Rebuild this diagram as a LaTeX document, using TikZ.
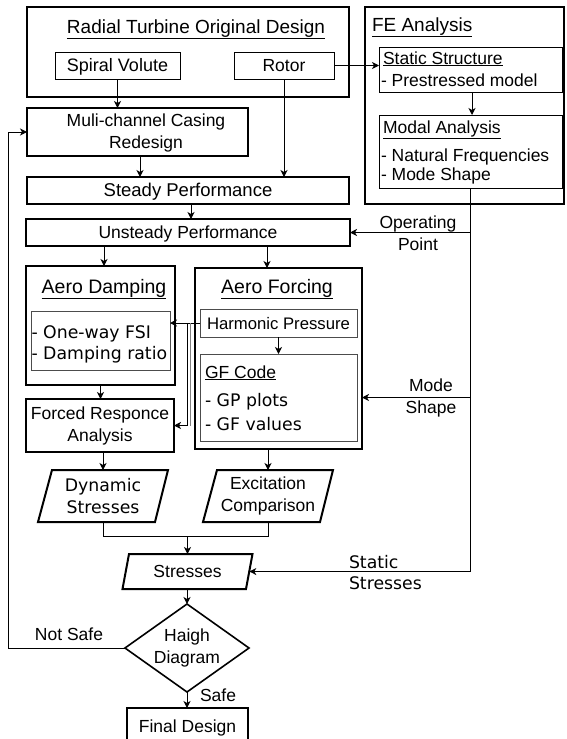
\documentclass[tikz,border=0pt]{standalone}
\usepackage{fontspec}
\setmainfont{Liberation Sans}
\newfontfamily\dejavu{DejaVu Sans}
\usetikzlibrary{arrows.meta,calc}

\tikzset{
  every node/.style={inner sep=0pt, outer sep=0pt},
  heavy/.style={draw, line width=2pt},
  light/.style={draw, line width=1pt},
  soft/.style={draw=black!70, line width=1pt},
  lt/.style={font=\fontsize{17.5}{22}\selectfont},
  lbig/.style={font=\fontsize{19}{22}\selectfont},
  dv/.style={font=\dejavu\fontsize{17.3}{21.5}\selectfont},
  capc/.style={text height=12.5pt, text depth=0pt},
  ml/.style={align=center},
  arr/.style={line width=1pt, -{Stealth[length=7pt,width=7pt,inset=2pt]}},
  link/.style={line width=1pt},
  shapeline/.style={line width=2pt, line join=miter},
}

\begin{document}
\begin{tikzpicture}[x=1pt,y=-1pt]
\useasboundingbox (0,0) rectangle (566,739);

% original design group
\node[heavy, minimum width=322pt, minimum height=90pt] (orig) at (188,52) {};
\node[lbig, anchor=base] (origT) at (196,33) {\underline{Radial Turbine Original Design}};
\node[light, capc, font=\fontsize{18}{22}\selectfont, minimum width=125pt, minimum height=27pt] (vol) at (117.5,65.5) {Spiral Volute};
\node[light, capc, lt, minimum width=100pt, minimum height=27pt] (rot) at (284,65.5) {Rotor};

% FE analysis group
\node[heavy, minimum width=199pt, minimum height=197pt] (fe) at (464.5,105.5) {};
\node[lbig, anchor=base west] (feT) at (372,31) {\underline{FE Analysis}};
\node[light, minimum width=183pt, minimum height=45pt] (stat) at (470.5,69.5) {};
\node[lt, anchor=base west] (statT) at (383,64) {\underline{Static Structure}};
\node[lt, anchor=base west] (statA) at (381,86.5) {- Prestressed model};
\node[light, minimum width=183pt, minimum height=73pt] (modal) at (470.5,151.5) {};
\node[lt, anchor=base west] (modT) at (383,133) {\underline{Modal Analysis}};
\node[lt, anchor=base west] (modA) at (381,161) {- Natural Frequencies};
\node[lt, anchor=base west] (modB) at (381,180.5) {- Mode Shape};

% redesign and performance
\node[heavy, minimum width=221pt, minimum height=48pt] (multi) at (137.5,132) {};
\node[lt, ml] (multiT) at (146,133) {Muli-channel Casing\\Redesign};
\node[heavy, capc, font=\fontsize{18.5}{22}\selectfont, minimum width=322pt, minimum height=27pt] (steady) at (188,190.5) {Steady Performance};
\node[heavy, capc, lt, minimum width=324pt, minimum height=27pt] (unst) at (188,232.5) {Unsteady Performance};
\node[lt, ml] (opT) at (418,233.5) {Operating\\Point};

% aero damping
\node[heavy, minimum width=149pt, minimum height=119pt] (damp) at (100.5,325.5) {};
\node[font=\fontsize{19.5}{22}\selectfont, anchor=base] (dampT) at (104,293) {\underline{Aero Damping}};
\node[soft, minimum width=139pt, minimum height=59pt] (fsi) at (100.5,340.5) {};
\node[dv, anchor=base west] (fsiA) at (31.5,338.5) {- One-way FSI};
\node[dv, anchor=base west] (fsiB) at (31.5,359) {- Damping ratio};

% aero forcing
\node[heavy, minimum width=167pt, minimum height=181pt] (force) at (278.5,358.5) {};
\node[font=\fontsize{19.5}{22}\selectfont, anchor=base] (forceT) at (277,293) {\underline{Aero Forcing}};
\node[soft, capc, font=\fontsize{16.7}{22}\selectfont, minimum width=157pt, minimum height=28pt] (harm) at (278.5,323) {Harmonic Pressure};
\node[soft, minimum width=157pt, minimum height=87pt] (gf) at (278.5,397.5) {};
\node[lt, anchor=base west] (gfT) at (205,378) {\underline{GF Code}};
\node[dv, anchor=base west] (gfA) at (205,406.5) {- GP plots};
\node[dv, anchor=base west] (gfB) at (205,430.5) {- GF values};
\node[lt, ml] (modeT) at (431,397.5) {Mode\\Shape};

% response and stresses
\node[heavy, lt, ml, minimum width=148pt, minimum height=53pt] (forced) at (100,425.5) {Forced Responce\\Analysis};
\node[dv, ml, minimum width=130pt, minimum height=52pt] (dyn) at (103,496) {Dynamic\\Stresses};
\draw[shapeline] ([xshift=14pt]dyn.north west) -- (dyn.north east) -- ([xshift=-13pt]dyn.south east) -- (dyn.south west) -- cycle;
\node[lt, ml, minimum width=130pt, minimum height=52pt] (exc) at (268,496) {Excitation\\Comparison};
\draw[shapeline] ([xshift=14pt]exc.north west) -- (exc.north east) -- ([xshift=-13pt]exc.south east) -- (exc.south west) -- cycle;
\node[lt, capc, minimum width=130pt, minimum height=35pt] (stress) at (187.5,571.5) {Stresses};
\draw[shapeline] ([xshift=6.5pt]stress.north west) -- (stress.north east) -- ([xshift=-6.5pt]stress.south east) -- (stress.south west) -- cycle;
\node[dv, align=left, anchor=west] (statS) at (349,572.5) {Static\\Stresses};

% decision
\node[lt, ml, minimum width=124pt, minimum height=88pt] (haigh) at (187,648) {Haigh\\Diagram};
\draw[line width=1.6pt, line join=miter] (haigh.north) -- (haigh.east) -- (haigh.south) -- (haigh.west) -- cycle;
\node[lt, anchor=base] (notT) at (69,640) {Not Safe};
\node[lt, anchor=base] (safeT) at (218,701.5) {Safe};
\node[heavy, lt, capc, minimum width=121pt, minimum height=37pt] (final) at (187.5,726.5) {Final Design};

% connectors
\draw[arr] (vol.south) -- (vol.south |- multi.north);
\draw[arr] ([xshift=2.5pt]multi.south) -- ([xshift=2.5pt]multi.south |- steady.north);
\draw[arr] (rot.south) -- (rot.south |- steady.north);
\draw[arr] (rot.east) -- (rot.east -| stat.west);
\draw[arr] ([xshift=1.5pt]stat.south) -- ([xshift=1.5pt]stat.south |- modal.north);
\draw[arr] ([xshift=3pt]steady.south) -- ([xshift=3pt]steady.south |- unst.north);
\draw[arr] (unst.south -| dampT) -- (dampT |- damp.north);
\draw[arr] ([xshift=-11.5pt]force.north |- unst.south) -- ([xshift=-11.5pt]force.north);
\draw[arr] (damp.south) -- (damp.south |- forced.north);
\draw[arr] (harm.west) -- (harm.west -| fsi.east);
\draw[arr] (harm.west) -- ++(-13,0) |- (forced.east);
\draw[link, black!50] ([xshift=-10pt]harm.west) -- ([xshift=-10pt]harm.west |- forced.east);
\draw[arr] (harm.south) -- (gf.north);
\draw[arr] (forced.south -| dyn.north) -- (dyn.north);
\draw[arr] (force.south -| exc.north) -- (exc.north);
\draw[link] (dyn.south) -- ++(0,14) coordinate (join) -| (exc.south);
\draw[arr] (join -| stress.north) -- (stress.north);
\draw[arr] (stress.south -| haigh.north) -- (haigh.north);
\draw[arr] (haigh.south) -- (haigh.south |- final.north);
\draw[arr] (haigh.west) -- ++(-117,0) |- (multi.west);
\draw[arr] (modal.south) |- ([xshift=-3.2pt]stress.east);
\draw[arr] (modal.south |- unst.east) -- (unst.east);
\draw[arr] (modal.south |- gf.east) -- (gf.east -| force.east);
\end{tikzpicture}
\end{document}
